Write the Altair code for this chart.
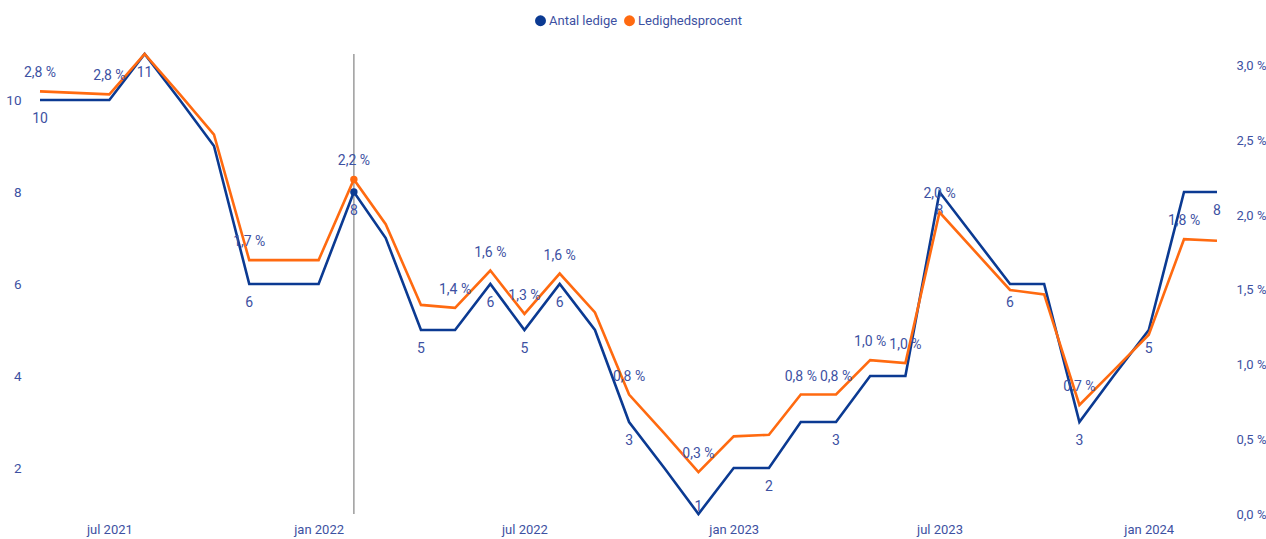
import altair as alt
import pandas as pd

FONT = "Liberation Sans Narrow, Arial Narrow, Roboto, sans-serif"
TXT = "#3d51a2"
BLUE = "#0b3a92"
ORANGE = "#ff6a10"
GRAY = "#9c9c9c"

months = [
    "2021-05-01T00:00", "2021-06-01T00:00", "2021-07-01T00:00", "2021-08-01T00:00",
    "2021-09-01T00:00", "2021-10-01T00:00", "2021-11-01T00:00", "2021-12-01T00:00",
    "2022-01-01T00:00", "2022-02-01T00:00", "2022-03-01T00:00", "2022-04-01T00:00",
    "2022-05-01T00:00", "2022-06-01T00:00", "2022-07-01T00:00", "2022-08-01T00:00",
    "2022-09-01T00:00", "2022-10-01T00:00", "2022-11-01T00:00", "2022-12-01T00:00",
    "2023-01-01T00:00", "2023-02-01T00:00", "2023-03-01T00:00", "2023-04-01T00:00",
    "2023-05-01T00:00", "2023-06-01T00:00", "2023-07-01T00:00", "2023-08-01T00:00",
    "2023-09-01T00:00", "2023-10-01T00:00", "2023-11-01T00:00", "2023-12-01T00:00",
    "2024-01-01T00:00", "2024-02-01T00:00", "2024-03-01T00:00",
]
antal = [10, 10, 10, 11, 10, 9, 6, 6,
         6, 8, 7, 5, 5, 6, 5, 6, 5, 3, 2, 1,
         2, 2, 3, 3, 4, 4, 8, 7, 6, 6, 3, 4,
         5, 8, 8]
pct = [2.83, 2.82, 2.81, 3.08, 2.81, 2.54, 1.70, 1.70,
       1.70, 2.24, 1.94, 1.40, 1.38, 1.63, 1.34, 1.61, 1.35, 0.80, 0.54, 0.28,
       0.52, 0.53, 0.80, 0.80, 1.03, 1.01, 2.02, 1.76, 1.50, 1.47, 0.73, 0.96,
       1.20, 1.84, 1.83]
antal_show = [1, 0, 0, 1, 0, 0, 1, 0,
              0, 1, 0, 1, 0, 1, 1, 1, 0, 1, 0, 1,
              0, 1, 0, 1, 0, 0, 1, 0, 1, 0, 1, 0,
              1, 0, 1]
pct_show = [1, 0, 1, 0, 0, 0, 1, 0,
            0, 1, 0, 0, 1, 1, 1, 1, 0, 1, 0, 1,
            0, 0, 1, 1, 1, 1, 1, 0, 0, 0, 1, 0,
            0, 1, 0]
highlight_month = "2022-02-01T00:00"
x_ticks = [(2021, 7), (2022, 1), (2022, 7), (2023, 1), (2023, 7), (2024, 1)]
left_ticks = [2, 4, 6, 8, 10]
right_ticks = [0, 0.5, 1.0, 1.5, 2.0, 2.5, 3.0]
series = ["Antal ledige", "Ledighedsprocent"]

df = pd.DataFrame({
    "month": months,
    "antal": antal,
    "pct": pct,
    "a_show": antal_show,
    "p_show": pct_show,
})
df["hl"] = [m == highlight_month for m in months]
df["antal_label"] = [str(v) for v in antal]
df["pct_label"] = [f"{v:.1f}".replace(".", ",") + " %" for v in pct]

base = alt.Chart(df)

X = alt.X(
    "month:T",
    scale=alt.Scale(domain=[alt.DateTime(year=2021, month=5, date=1),
                            alt.DateTime(year=2024, month=3, date=1)]),
    axis=alt.Axis(
        values=[alt.DateTime(year=y, month=m, date=1) for y, m in x_ticks],
        labelExpr="['jan','feb','mar','apr','maj','jun','jul','aug','sep','okt','nov','dec'][month(datum.value)] + ' ' + year(datum.value)",
        title=None, domain=False, ticks=False, grid=False, labelPadding=9,
        labelFontSize=13, labelColor=TXT, labelFont=FONT,
    ),
)
YL = alt.Y(
    "antal:Q",
    scale=alt.Scale(domain=[1, 11], nice=False, zero=False),
    axis=alt.Axis(values=left_ticks, title=None, domain=False, ticks=False, grid=False,
                  labelPadding=19, labelFontSize=13.5, labelColor=TXT, labelFont=FONT),
)
YR = alt.Y(
    "pct:Q",
    scale=alt.Scale(domain=[0, 3.08], nice=False, zero=True),
    axis=alt.Axis(orient="right", values=right_ticks, title=None, domain=False, ticks=False,
                  grid=False, labelPadding=19, labelFontSize=13, labelColor=TXT, labelFont=FONT,
                  labelExpr="replace(format(datum.value, '.1f'), '.', ',') + ' %'"),
)

color_scale = alt.Scale(domain=series, range=[BLUE, ORANGE])
legend = alt.Legend(orient="none", legendX=494, legendY=-40, direction="horizontal",
                    title=None, symbolType="circle", symbolSize=120, labelFontSize=13,
                    labelColor=TXT, labelFont=FONT, columnPadding=5, labelOffset=2)
C = alt.Color("series:N", scale=color_scale, legend=legend)

rule = base.transform_filter("datum.hl").mark_rule(color=GRAY, strokeWidth=1.5).encode(x=X)

blue_line = base.mark_line(color=BLUE, strokeWidth=2.6).encode(x=X, y=YL)
blue_pt = base.transform_filter("datum.hl").transform_calculate(
    series=f"'{series[0]}'").mark_circle(size=55, opacity=1).encode(x=X, y=YL, color=C)
blue_txt = base.transform_filter("datum.a_show == 1 && datum.antal > 1").mark_text(
    dy=19, fontSize=14, color=TXT, font=FONT).encode(x=X, y=YL, text="antal_label:N")
blue_txt_low = base.transform_filter("datum.a_show == 1 && datum.antal <= 1").mark_text(
    dy=-7, fontSize=14, color=TXT, font=FONT).encode(x=X, y=YL, text="antal_label:N")

orange_line = base.mark_line(color=ORANGE, strokeWidth=2.6).encode(x=X, y=YR)
orange_pt = base.transform_filter("datum.hl").transform_calculate(
    series=f"'{series[1]}'").mark_circle(size=55, opacity=1).encode(x=X, y=YR, color=C)
orange_txt = base.transform_filter("datum.p_show == 1").mark_text(
    dy=-18, fontSize=14, color=TXT, font=FONT).encode(x=X, y=YR, text="pct_label:N")

blue_group = alt.layer(rule, blue_line, blue_pt, blue_txt, blue_txt_low)
orange_group = alt.layer(orange_line, orange_pt, orange_txt)

chart = alt.layer(blue_group, orange_group).resolve_scale(y="independent").properties(
    width=1177, height=460,
    padding={"left": 40, "top": 54, "right": 49, "bottom": 25},
    autosize=alt.AutoSizeParams(type="none"),
    background="white",
).configure_view(stroke=None)

chart.save("out.html", embed_options={"renderer": "svg", "actions": False})
